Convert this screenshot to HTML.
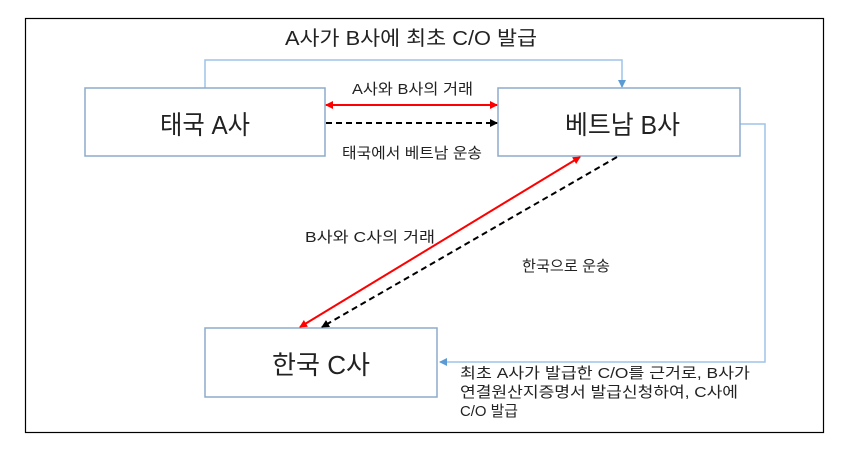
<!DOCTYPE html>
<html><head><meta charset="utf-8"><style>
body{margin:0;background:#fff;width:859px;height:464px;overflow:hidden;font-family:"Liberation Sans","Noto Sans CJK KR",sans-serif}
</style></head><body>
<svg width="859" height="464" xmlns="http://www.w3.org/2000/svg" font-family="Liberation Sans, Noto Sans CJK KR, sans-serif">
<defs>
<marker id="r" markerWidth="8" markerHeight="8" refX="7" refY="4" orient="auto-start-reverse" markerUnits="userSpaceOnUse"><path d="M0,0 L8,4 L0,8z" fill="#f00"/></marker>
<marker id="k" markerWidth="8" markerHeight="8" refX="7" refY="4" orient="auto" markerUnits="userSpaceOnUse"><path d="M0,0 L8,4 L0,8z" fill="#000"/></marker>
<marker id="b" markerWidth="8" markerHeight="8" refX="7" refY="4" orient="auto" markerUnits="userSpaceOnUse"><path d="M0,0 L8,4 L0,8z" fill="#5b9bd5"/></marker>
</defs>
<rect x="25.5" y="18.5" width="798" height="414" fill="none" stroke="#000" stroke-width="1.2"/>
<text x="285" y="45" font-size="20" fill="#222" textLength="252" lengthAdjust="spacingAndGlyphs">A사가 B사에 최초 C/O 발급</text>
<polyline points="205,88 205,60 622,60 622,87" fill="none" stroke="#9dc3e6" stroke-width="1.5" marker-end="url(#b)"/>
<polyline points="740,124 765,124 765,362 440,362" fill="none" stroke="#9dc3e6" stroke-width="1.5" marker-end="url(#b)"/>
<rect x="85" y="88" width="240" height="68" fill="#fff" stroke="#8eaacc" stroke-width="1.5"/>
<rect x="498" y="88" width="242" height="68" fill="#fff" stroke="#8eaacc" stroke-width="1.5"/>
<rect x="205" y="328" width="232" height="69" fill="#fff" stroke="#8eaacc" stroke-width="1.5"/>
<text x="160" y="134" font-size="26" fill="#222" textLength="90" lengthAdjust="spacingAndGlyphs">태국 A사</text>
<text x="565" y="134" font-size="26" fill="#222" textLength="115" lengthAdjust="spacingAndGlyphs">베트남 B사</text>
<text x="272" y="374" font-size="26" fill="#222" textLength="98" lengthAdjust="spacingAndGlyphs">한국 C사</text>
<line x1="326" y1="105" x2="497" y2="105" stroke="#f00" stroke-width="2" marker-start="url(#r)" marker-end="url(#r)"/>
<line x1="326" y1="123" x2="497" y2="123" stroke="#000" stroke-width="2" stroke-dasharray="6,4" marker-end="url(#k)"/>
<g font-size="15" fill="#222" lengthAdjust="spacingAndGlyphs">
<text x="352" y="94" textLength="121" lengthAdjust="spacingAndGlyphs">A사와 B사의 거래</text>
<text x="342" y="158" textLength="140" lengthAdjust="spacingAndGlyphs">태국에서 베트남 운송</text>
<text x="305" y="242" textLength="130" lengthAdjust="spacingAndGlyphs">B사와 C사의 거래</text>
<text x="522" y="271" textLength="88" lengthAdjust="spacingAndGlyphs">한국으로 운송</text>
<text x="460" y="378" textLength="290" lengthAdjust="spacingAndGlyphs">최초 A사가 발급한 C/O를 근거로, B사가</text>
<text x="460" y="397" textLength="278" lengthAdjust="spacingAndGlyphs">연결원산지증명서 발급신청하여, C사에</text>
<text x="460" y="416" textLength="58" lengthAdjust="spacingAndGlyphs">C/O 발급</text>
</g>
<line x1="580" y1="157" x2="300" y2="327" stroke="#f00" stroke-width="2" marker-start="url(#r)" marker-end="url(#r)"/>
<line x1="617" y1="157" x2="322" y2="327" stroke="#000" stroke-width="2" stroke-dasharray="6,4" marker-end="url(#k)"/>
</svg>
</body></html>
